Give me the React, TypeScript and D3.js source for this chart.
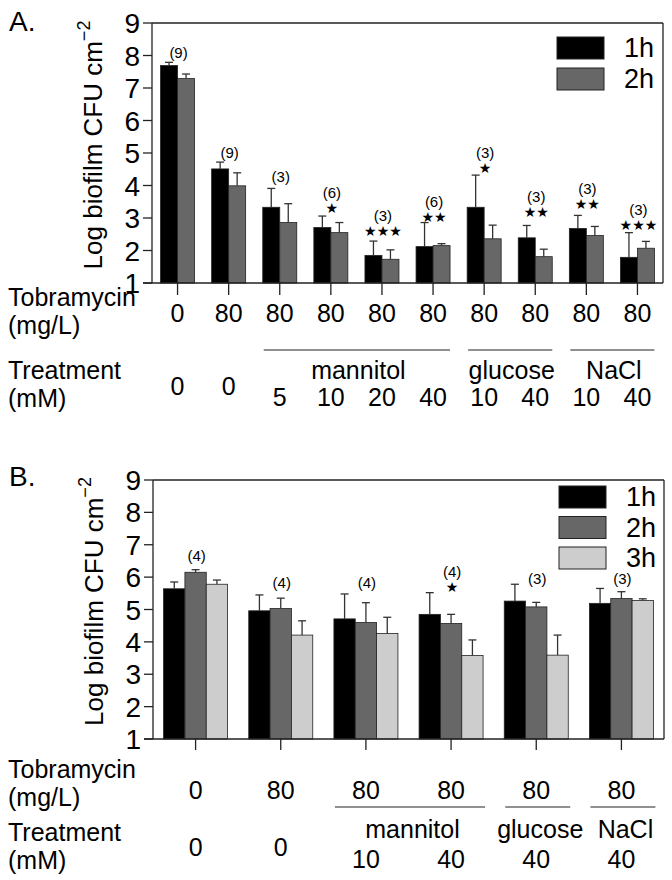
import React from "react";
import * as d3 from "d3";

// ---------- Panel A data ----------
const seriesA = ["1h", "2h"];
const tobraA = ["0", "80", "80", "80", "80", "80", "80", "80", "80", "80"];
const treatA = ["0", "0", "5", "10", "20", "40", "10", "40", "10", "40"];
const meanA1h = [7.69, 4.51, 3.33, 2.71, 1.85, 2.12, 3.33, 2.39, 2.68, 1.79];
const sdA1h = [0.1, 0.21, 0.58, 0.35, 0.44, 0.74, 0.99, 0.38, 0.4, 0.76];
const meanA2h = [7.29, 3.99, 2.86, 2.55, 1.73, 2.15, 2.36, 1.81, 2.46, 2.07];
const sdA2h = [0.14, 0.4, 0.58, 0.31, 0.29, 0.06, 0.42, 0.23, 0.28, 0.21];
const nA = ["(9)", "(9)", "(3)", "(6)", "(3)", "(6)", "(3)", "(3)", "(3)", "(3)"];
const starsA = ["", "", "", "★", "★★★", "★★", "★", "★★", "★★", "★★★"];
const nLevelA = [8.08, 5.0, 4.26, 3.77, 3.06, 3.49, 5.0, 3.65, 3.89, 3.25];
const chemA = [
  { name: "mannitol", from: 2, to: 5 },
  { name: "glucose", from: 6, to: 7 },
  { name: "NaCl", from: 8, to: 9 },
];

// ---------- Panel B data ----------
const seriesB = ["1h", "2h", "3h"];
const tobraB = ["0", "80", "80", "80", "80", "80"];
const treatB = ["0", "0", "10", "40", "40", "40"];
const meanB1h = [5.64, 4.96, 4.71, 4.85, 5.26, 5.19];
const sdB1h = [0.21, 0.49, 0.77, 0.67, 0.52, 0.46];
const meanB2h = [6.15, 5.03, 4.6, 4.57, 5.08, 5.34];
const sdB2h = [0.08, 0.32, 0.61, 0.28, 0.14, 0.21];
const meanB3h = [5.78, 4.21, 4.26, 3.58, 3.59, 5.28];
const sdB3h = [0.13, 0.44, 0.5, 0.48, 0.62, 0.05];
const nB = ["(4)", "(4)", "(4)", "(4)", "(3)", "(3)"];
const starsB = ["", "", "", "★", "", ""];
const nLevelB = [6.65, 5.82, 5.82, 6.16, 5.94, 5.94];
const chemB = [
  { name: "mannitol", from: 2, to: 3 },
  { name: "glucose", from: 4, to: 4 },
  { name: "NaCl", from: 5, to: 5 },
];

const yTicks = [1, 2, 3, 4, 5, 6, 7, 8, 9];

const FONT = "'Liberation Sans', Arial, Helvetica, sans-serif";
const fillOf: Record<string, string> = { "1h": "#000000", "2h": "#676767", "3h": "#cdcdcd" };
const AX = "#222";

type PanelProps = {
  letter: string;
  series: string[];
  means: number[][];
  sds: number[][];
  ns: string[];
  stars: string[];
  nLevels: number[];
  tobra: string[];
  treat: string[];
  chems: { name: string; from: number; to: number }[];
  L: any;
};

function Panel(p: PanelProps) {
  const { L } = p;
  const groups = p.tobra.map((_, i) => i);
  const x = d3.scaleBand<number>().domain(groups).range([L.x0, L.x1]).padding(0);
  const cx = (i: number) => (x(i) as number) + x.bandwidth() / 2;
  const xs = d3.scaleBand<string>().domain(p.series).range([-L.half, L.half]);
  const y = d3.scaleLinear().domain([1, 9]).range([L.yBot, L.yTop]);
  const bw = xs.bandwidth();
  const chemLines = p.chems.map((c) => ({
    ...c,
    a: cx(c.from) - L.lineL,
    b: cx(c.to) + L.lineR,
    mid: (cx(c.from) + cx(c.to)) / 2 + L.chemShift,
  }));
  const inChem = (i: number) => p.chems.some((c) => i >= c.from && i <= c.to);
  const labelCenterY = (L.yTop + L.yBot) / 2 - 8;
  return (
    <g fontFamily={FONT}>
      <text x={9} y={L.letterY} fontSize={28}>{p.letter}</text>
      {/* y label */}
      <text
        transform={`translate(${L.ylabX},${labelCenterY}) rotate(-90)`}
        textAnchor="middle"
        fontSize={26}
      >
        Log biofilm CFU cm<tspan fontSize={18} dy={-12}>−2</tspan>
      </text>
      {/* bars */}
      {p.series.map((s, si) =>
        groups.map((i) => {
          const v = p.means[si][i];
          const x0 = cx(i) + (xs(s) as number);
          return (
            <rect
              key={s + i}
              x={x0}
              y={y(v)}
              width={bw}
              height={y(1) - y(v)}
              fill={fillOf[s]}
              stroke="#222"
              strokeWidth={0.8}
            />
          );
        })
      )}
      {/* error bars */}
      {p.series.map((s, si) =>
        groups.map((i) => {
          const v = p.means[si][i];
          const up = v + p.sds[si][i];
          const xc = cx(i) + (xs(s) as number) + bw / 2;
          return (
            <g key={"e" + s + i} stroke="#333" strokeWidth={1.3}>
              <line x1={xc} x2={xc} y1={y(v)} y2={y(up)} />
              <line x1={xc - 4} x2={xc + 4} y1={y(up)} y2={y(up)} />
            </g>
          );
        })
      )}
      {/* annotations */}
      {groups.map((i) => (
        <g key={"n" + i} textAnchor="middle">
          <text x={cx(i) + 1} y={y(p.nLevels[i]) + 5} fontSize={15}>{p.ns[i]}</text>
          {p.stars[i] && (
            <text x={cx(i) + 1} y={y(p.nLevels[i]) + 20} fontSize={14} fontFamily="'DejaVu Sans', sans-serif">
              {p.stars[i]}
            </text>
          )}
        </g>
      ))}
      {/* frame & axes */}
      <line x1={L.x0} x2={L.x0} y1={y(1)} y2={y(9)} stroke={AX} strokeWidth={1.3} />
      <line x1={L.x0} x2={L.x1} y1={y(9)} y2={y(9)} stroke={AX} strokeWidth={1.3} />
      <line x1={L.x1} x2={L.x1} y1={y(9)} y2={y(1)} stroke={AX} strokeWidth={1.3} />
      <line x1={L.x0 - 9} x2={L.x1} y1={y(1)} y2={y(1)} stroke={AX} strokeWidth={1.3} />
      {yTicks.map((t) => (
        <g key={"t" + t}>
          <line x1={L.x0 - 9} x2={L.x0} y1={y(t)} y2={y(t)} stroke={AX} strokeWidth={1.3} />
          <text x={L.x0 - 12} y={y(t) + 10} textAnchor="end" fontSize={28}>{t}</text>
        </g>
      ))}
      {groups.map((i) => (
        <line key={"xt" + i} x1={cx(i)} x2={cx(i)} y1={y(1)} y2={y(1) + L.tick} stroke={AX} strokeWidth={1.3} />
      ))}
      {/* category labels */}
      <text x={8} y={L.r.tobraY} fontSize={25}>Tobramycin</text>
      <text x={8} y={L.r.tobraY + L.r.rowGap} fontSize={25}>(mg/L)</text>
      {groups.map((i) => (
        <text key={"tb" + i} x={cx(i)} y={L.r.numY} fontSize={25} textAnchor="middle">{p.tobra[i]}</text>
      ))}
      {chemLines.map((c) => (
        <g key={c.name}>
          <line x1={c.a} x2={c.b} y1={L.r.lineY} y2={L.r.lineY} stroke={AX} strokeWidth={1.2} />
          <text x={c.mid} y={L.r.chemY} fontSize={25} textAnchor="middle">{c.name}</text>
        </g>
      ))}
      <text x={8} y={L.r.treatY} fontSize={25}>Treatment</text>
      <text x={8} y={L.r.treatY + L.r.rowGap} fontSize={25}>(mM)</text>
      {groups.map((i) => (
        <text
          key={"tr" + i}
          x={cx(i)}
          y={inChem(i) ? L.r.concY : L.r.zeroY}
          fontSize={25}
          textAnchor="middle"
        >
          {p.treat[i]}
        </text>
      ))}
      {/* legend */}
      {p.series.map((s, si) => (
        <g key={"lg" + s}>
          <rect x={L.lgX} y={L.lgY + si * L.lgStep} width={47} height={22} fill={fillOf[s]} stroke="#222" strokeWidth={1} />
          <text x={L.lgX + 67} y={L.lgY + si * L.lgStep + 20} fontSize={27}>{s}</text>
        </g>
      ))}
    </g>
  );
}

const layoutA = {
  x0: 152, x1: 663, yTop: 23, yBot: 283, half: 17, tick: 12, letterY: 31, ylabX: 102,
  lineL: 16, lineR: 17, chemShift: 2,
  lgX: 557, lgY: 37, lgStep: 31,
  r: { tobraY: 306, rowGap: 28, numY: 322, lineY: 350, treatY: 379, zeroY: 395, chemY: 379, concY: 406 },
};
const layoutB = {
  x0: 153, x1: 664, yTop: 480, yBot: 739, half: 32, tick: 11, letterY: 486, ylabX: 103,
  lineL: 31, lineR: 34, chemShift: 4,
  lgX: 559, lgY: 486, lgStep: 30.5,
  r: { tobraY: 778, rowGap: 28, numY: 799, lineY: 807, treatY: 841, zeroY: 856, chemY: 838, concY: 868 },
};

export default function App() {
  return (
    <svg width={672} height={880} style={{ position: "absolute", left: 0, top: 0, background: "#fff" }}>
      <rect width={672} height={880} fill="#fff" />
      <Panel
        letter="A."
        series={seriesA}
        means={[meanA1h, meanA2h]}
        sds={[sdA1h, sdA2h]}
        ns={nA}
        stars={starsA}
        nLevels={nLevelA}
        tobra={tobraA}
        treat={treatA}
        chems={chemA}
        L={layoutA}
      />
      <Panel
        letter="B."
        series={seriesB}
        means={[meanB1h, meanB2h, meanB3h]}
        sds={[sdB1h, sdB2h, sdB3h]}
        ns={nB}
        stars={starsB}
        nLevels={nLevelB}
        tobra={tobraB}
        treat={treatB}
        chems={chemB}
        L={layoutB}
      />
    </svg>
  );
}
